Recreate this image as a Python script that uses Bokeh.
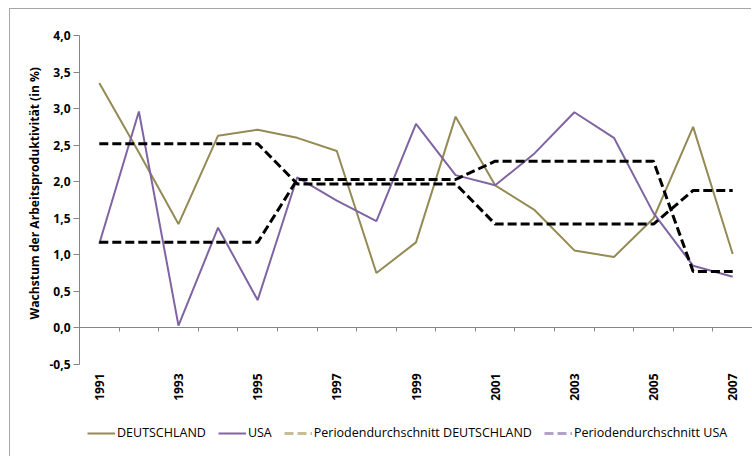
from math import pi, nan
from bokeh.plotting import figure
from bokeh.models import (Range1d, LinearAxis, FixedTicker, Legend, LegendItem, Title)
from bokeh.core.properties import value
from bokeh.embed import file_html
from bokeh.resources import INLINE

years = [1991, 1992, 1993, 1994, 1995, 1996, 1997, 1998, 1999, 2000,
         2001, 2002, 2003, 2004, 2005, 2006, 2007]
deutschland = [3.35, 2.40, 1.42, 2.63, 2.71, 2.60, 2.42, 0.75, 1.17, 2.89,
               1.95, 1.61, 1.06, 0.97, 1.50, 2.75, 1.01]
usa = [1.15, 2.96, 0.03, 1.37, 0.38, 2.06, 1.74, 1.46, 2.79, 2.09,
       1.95, 2.39, 2.95, 2.60, 1.57, 0.85, 0.70]
avg_deutschland = [2.52, 2.52, 2.52, 2.52, 2.52, 1.97, 1.97, 1.97, 1.97, 1.97,
                   1.42, 1.42, 1.42, 1.42, 1.42, 1.88, 1.88]
avg_usa = [1.17, 1.17, 1.17, 1.17, 1.17, 2.03, 2.03, 2.03, 2.03, 2.03,
           2.28, 2.28, 2.28, 2.28, 2.28, 0.77, 0.77]
y_ticks = [-0.5, 0.0, 0.5, 1.0, 1.5, 2.0, 2.5, 3.0, 3.5, 4.0]
y_tick_labels = ["-0,5", "0,0", "0,5", "1,0", "1,5", "2,0", "2,5", "3,0", "3,5", "4,0"]
label_years = [1991, 1993, 1995, 1997, 1999, 2001, 2003, 2005, 2007]
series_names = ["DEUTSCHLAND", "USA", "Periodendurchschnitt DEUTSCHLAND", "Periodendurchschnitt USA"]
y_title = "Wachstum der Arbeitsproduktivität (in %)"

FONT = "Open Sans"
AXIS_COLOR = "#868686"

# layout (pixels); the figure sits 10px from the left and 9px from the top,
# with a 1px grey edge drawn just outside it on top and left
W, H = 742, 448
OX, OY = 10, 9                      # canvas origin in the page
FRAME_LEFT, FRAME_TOP = 79 - OX, 35 - OY
AXIS_RESERVE = 4                    # space kept by the zero-line axis below the frame
PX_PER_UNIT = 72.4
frame_h = H - FRAME_TOP - AXIS_RESERVE
y_start = y_ticks[-1] - frame_h / PX_PER_UNIT

p = figure(width=W, height=H, output_backend="svg", toolbar_location=None,
           x_range=Range1d(years[0] - 0.5, years[-1] + 0.5),
           y_range=Range1d(y_start, y_ticks[-1]),
           x_axis_location=None, y_axis_location="left",
           min_border_left=FRAME_LEFT, min_border_right=0, min_border_top=FRAME_TOP,
           min_border_bottom=0)
p.styles = {"margin-left": "10px", "margin-top": "9px",
            "box-shadow": "-1px -1px 0px 0px #a6a6a6"}
p.outline_line_color = None
p.xgrid.visible = False
p.ygrid.visible = False
p.background_fill_color = "white"
p.border_fill_color = "white"

# y axis
ya = p.yaxis[0]
ya.bounds = (y_ticks[0], y_ticks[-1])
ya.ticker = FixedTicker(ticks=y_ticks)
ya.major_label_overrides = {t: s for t, s in zip(y_ticks, y_tick_labels)}
ya.axis_line_color = AXIS_COLOR
ya.major_tick_line_color = AXIS_COLOR
ya.major_tick_in = 0
ya.major_tick_out = 6
ya.minor_tick_line_color = None
ya.major_label_standoff = 3
ya.major_label_text_font = FONT
ya.major_label_text_font_style = "bold"
ya.major_label_text_font_size = "12px"
ya.major_label_text_color = "black"

# y title, placed beside the axis
yt = Title(text=y_title, align="left", offset=138,
           standoff=8, text_font=FONT, text_font_style="bold",
           text_font_size="12.1px", text_color="black")
p.add_layout(yt, "left")

# x axis line at y = 0 with ticks at category boundaries
boundaries = [y - 0.5 for y in years] + [years[-1] + 0.5]
x0 = LinearAxis(ticker=FixedTicker(ticks=boundaries), fixed_location=0)
x0.axis_line_color = AXIS_COLOR
x0.major_tick_line_color = AXIS_COLOR
x0.minor_tick_line_color = None
x0.major_tick_in = 0
x0.major_tick_out = AXIS_RESERVE
x0.major_label_standoff = 0
x0.major_label_text_font_size = "0px"
x0.major_label_text_alpha = 0
p.add_layout(x0, "below")

# year labels under the plot area
p.text(x=label_years, y=[y_ticks[0]] * len(label_years),
       text=[str(y) for y in label_years], angle=pi / 2,
       text_align="right", text_baseline="middle", y_offset=9,
       text_font=value(FONT), text_font_style="bold", text_font_size="12px",
       text_color="black")

r_de = p.line(years, deutschland, line_color="#948A54", line_width=2)
r_us = p.line(years, usa, line_color="#8064A2", line_width=2)
p.line(years, avg_deutschland, line_color="black", line_width=3, line_dash="9 4")
p.line(years, avg_usa, line_color="black", line_width=3, line_dash="9 4")
# legend-only keys (the averages are drawn black in the plot, pale in the legend)
r_lde = p.line(years[:2], [nan, nan], line_color="#C4BD97", line_width=3, line_dash="9 4")
r_lus = p.line(years[:2], [nan, nan], line_color="#B3A2C7", line_width=3, line_dash="9 4")

legend = Legend(items=[LegendItem(label=series_names[0], renderers=[r_de]),
                       LegendItem(label=series_names[1], renderers=[r_us]),
                       LegendItem(label=series_names[2], renderers=[r_lde]),
                       LegendItem(label=series_names[3], renderers=[r_lus])],
                location=(8, (OY + H) - AXIS_RESERVE - 437), orientation="horizontal")
legend.border_line_color = None
legend.background_fill_alpha = 0
legend.padding = 0
legend.margin = 0
legend.spacing = 12
legend.label_standoff = 2
legend.glyph_width = 28
legend.glyph_height = 14
legend.label_text_font = FONT
legend.label_text_font_size = "12.5px"
legend.label_text_color = "black"
p.add_layout(legend, "center")

open("out.html", "w").write(file_html(p, INLINE))
